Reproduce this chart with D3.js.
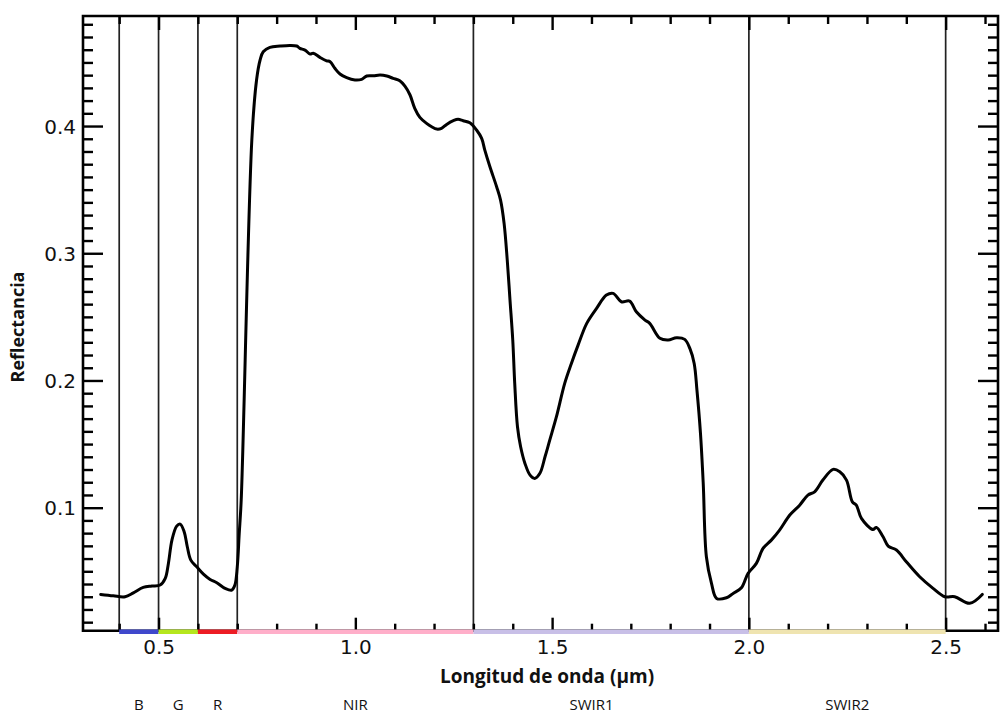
<!DOCTYPE html>
<html>
<head>
<meta charset="utf-8">
<script src="https://cdn.jsdelivr.net/npm/d3@7"></script>
<style>
  html, body { margin: 0; padding: 0; background: #fff; }
  svg { display: block; }
</style>
</head>
<body>
<svg id="chart" width="1000" height="715"></svg>
<script>
// ---- Data ----
const wavelength = [0.353,0.385,0.415,0.436,0.461,0.483,0.504,0.517,0.525,0.534,0.546,0.555,0.565,0.573,0.582,0.597,0.614,0.631,0.648,0.669,0.686,0.694,0.700,0.705,0.710,
0.737,0.749,0.758,0.766,0.783,0.809,0.834,0.851,0.859,0.872,0.885,0.893,0.910,0.927,0.936,0.948,0.961,0.978,0.999,1.016,1.029,1.046,1.063,1.080,1.096,1.113,1.126,1.139,1.151,1.164,1.181,1.194,1.207,1.219,1.232,1.249,1.261,1.274,1.291,1.308,1.321,
1.329,1.342,1.359,1.369,1.378,1.386,1.393,1.400,1.405,1.412,1.420,1.431,1.444,1.456,1.469,1.482,1.494,1.511,1.532,1.549,1.566,1.588,1.613,1.638,1.655,1.676,1.697,1.714,1.736,1.748,1.774,1.795,1.816,1.837,1.850,1.861,1.868,1.877,1.884,
1.892,1.905,1.918,1.943,1.960,1.981,1.998,2.019,2.036,2.057,2.078,2.104,2.129,2.150,2.167,2.188,2.214,2.231,2.248,2.263,2.273,2.286,2.315,2.324,2.341,2.354,2.375,2.400,2.434,2.468,2.498,2.523,2.561,2.593];
const reflectance = [0.0318,0.0307,0.0300,0.0331,0.0373,0.0384,0.0392,0.0444,0.0562,0.0745,0.0855,0.0871,0.0811,0.0693,0.0588,0.0535,0.0478,0.0436,0.0410,0.0366,0.0352,0.0392,0.0535,0.0798,0.1060,
0.389,0.4362,0.4519,0.4584,0.4619,0.4629,0.4634,0.4629,0.4611,0.4597,0.4566,0.4572,0.4540,0.4513,0.4506,0.4454,0.4409,0.4380,0.4362,0.4367,0.4393,0.4395,0.4401,0.4393,0.4375,0.4356,0.4314,0.4244,0.4139,0.4068,0.4021,0.3994,0.3976,0.3982,0.4013,0.4042,0.4053,0.4042,0.4026,0.3969,0.3903,
0.3811,0.3680,0.3523,0.3418,0.3235,0.2947,0.2632,0.2318,0.1977,0.1636,0.1479,0.1348,0.1256,0.1230,0.1270,0.1400,0.1531,0.1715,0.1977,0.2134,0.2278,0.2449,0.2567,0.2671,0.2685,0.2619,0.2624,0.2540,0.2475,0.2449,0.2331,0.2318,0.2336,0.2323,0.2252,0.2134,0.1925,0.1584,0.1191,
0.0614,0.0405,0.0287,0.0292,0.0326,0.0370,0.0484,0.0562,0.0680,0.0745,0.0824,0.0942,0.1020,0.1099,0.1125,0.1217,0.1301,0.1282,0.1217,0.1046,0.1020,0.0916,0.0829,0.0845,0.0771,0.0698,0.0667,0.0575,0.0457,0.0366,0.0300,0.0300,0.0248,0.0318];

const bandNames  = ["B", "G", "R", "NIR", "SWIR1", "SWIR2"];
const bandStart  = [0.4, 0.5, 0.6, 0.7, 1.3, 2.0];
const bandEnd    = [0.5, 0.6, 0.7, 1.3, 2.0, 2.5];
const bandColors = ["#3f48cc", "#b5e61d", "#ed1c24", "#ffaec9", "#c8bfe7", "#efe4b0"];
const bandLabelAt = [0.45, 0.55, 0.65, 1.0, 1.6, 2.25];
const bandBoundaries = [0.4, 0.5, 0.6, 0.7, 1.3, 2.0, 2.5];

const xTickValues = [0.5, 1.0, 1.5, 2.0, 2.5];
const xTickLabels = ["0.5", "1.0", "1.5", "2.0", "2.5"];
const yTickValues = [0.1, 0.2, 0.3, 0.4];
const yTickLabels = ["0.1", "0.2", "0.3", "0.4"];
const xDomain = [0.308, 2.633];
const yDomain = [0.0033, 0.4865];

const xTitle = "Longitud de onda (µm)";
const yTitle = "Reflectancia";

// ---- Layout ----
const L = 83, R = 998, T = 16, B = 630.7;
const svg = d3.select("#chart");
const x = d3.scaleLinear().domain(xDomain).range([L, R]);
const y = d3.scaleLinear().domain(yDomain).range([B, T]);

const xMinor = d3.range(4, 27).map(d => d / 10).filter(v => !xTickValues.some(t => Math.abs(t - v) < 1e-6));
const yMinor = d3.range(1, 49).map(d => d / 100).filter(v => !yTickValues.some(t => Math.abs(t - v) < 1e-6));

// vertical band boundaries
svg.append("g").selectAll("line").data(bandBoundaries).join("line")
  .attr("x1", d => x(d)).attr("x2", d => x(d))
  .attr("y1", T).attr("y2", B)
  .attr("stroke", "#222").attr("stroke-width", 1.7);

function styleAxis(g) {
  g.select(".domain").remove();
  g.selectAll(".tick line").attr("stroke", "#000").attr("stroke-width", 2.4);
}

// left axis
const fontTicks = "'DejaVu Sans', sans-serif";
svg.append("g").attr("transform", `translate(${L},0)`)
  .call(d3.axisLeft(y).tickValues(yMinor).tickSize(-10).tickFormat(""))
  .call(styleAxis);
svg.append("g").attr("transform", `translate(${L},0)`)
  .call(d3.axisLeft(y).tickValues(yTickValues).tickSize(-20).tickPadding(7)
        .tickFormat((d, i) => yTickLabels[i]))
  .call(styleAxis)
  .call(g => g.selectAll("text").attr("font-family", fontTicks).attr("font-size", 20)
        .attr("fill", "#111").attr("dy", "0.36em"));
// right axis
svg.append("g").attr("transform", `translate(${R},0)`)
  .call(d3.axisRight(y).tickValues(yMinor).tickSize(-10).tickFormat(""))
  .call(styleAxis);
svg.append("g").attr("transform", `translate(${R},0)`)
  .call(d3.axisRight(y).tickValues(yTickValues).tickSize(-20).tickFormat(""))
  .call(styleAxis);
// top axis
svg.append("g").attr("transform", `translate(0,${T})`)
  .call(d3.axisTop(x).tickValues(xMinor).tickSize(-8).tickFormat(""))
  .call(styleAxis);
svg.append("g").attr("transform", `translate(0,${T})`)
  .call(d3.axisTop(x).tickValues(xTickValues).tickSize(-14).tickFormat(""))
  .call(styleAxis);
// bottom axis
svg.append("g").attr("transform", `translate(0,${B})`)
  .call(d3.axisBottom(x).tickValues(xMinor).tickSize(-7).tickFormat(""))
  .call(styleAxis);
svg.append("g").attr("transform", `translate(0,${B})`)
  .call(d3.axisBottom(x).tickValues(xTickValues).tickSize(-13).tickPadding(9)
        .tickFormat((d, i) => xTickLabels[i]))
  .call(styleAxis)
  .call(g => g.selectAll("text").attr("font-family", fontTicks).attr("font-size", 20)
        .attr("fill", "#111"));

// frame
svg.append("path")
  .attr("d", `M${L},${T}H${R}V${B}H${L}Z`)
  .attr("fill", "none").attr("stroke", "#000").attr("stroke-width", 2.6);

// band colour bar
svg.append("g").selectAll("line").data(bandNames).join("line")
  .attr("x1", (d, i) => x(bandStart[i])).attr("x2", (d, i) => x(bandEnd[i]))
  .attr("y1", B + 1).attr("y2", B + 1)
  .attr("stroke", (d, i) => bandColors[i]).attr("stroke-width", 4.5);

// spectrum
const pts = wavelength.map((w, i) => [w, reflectance[i]]);
svg.append("path").datum(pts)
  .attr("d", d3.line().x(d => x(d[0])).y(d => y(d[1])).curve(d3.curveCatmullRom.alpha(0.5)))
  .attr("fill", "none").attr("stroke", "#000").attr("stroke-width", 3)
  .attr("stroke-linejoin", "round").attr("stroke-linecap", "round");

// titles
const fontTitle = "'Open Sans', 'Liberation Sans', sans-serif";
svg.append("text").attr("x", 547).attr("y", 683).attr("text-anchor", "middle")
  .attr("font-family", fontTitle).attr("font-weight", "bold").attr("font-size", 19)
  .attr("fill", "#111").text(xTitle);
svg.append("text").attr("transform", "translate(24,327) rotate(-90)").attr("text-anchor", "middle")
  .attr("font-family", fontTitle).attr("font-weight", "bold").attr("font-size", 18)
  .attr("fill", "#111").text(yTitle);

// band labels
svg.append("g").selectAll("text").data(bandNames).join("text")
  .attr("x", (d, i) => x(bandLabelAt[i])).attr("y", 704).attr("text-anchor", "middle")
  .attr("dominant-baseline", "central")
  .attr("font-family", fontTitle).attr("font-size", 15).attr("fill", "#111")
  .text(d => d);
</script>
</body>
</html>
